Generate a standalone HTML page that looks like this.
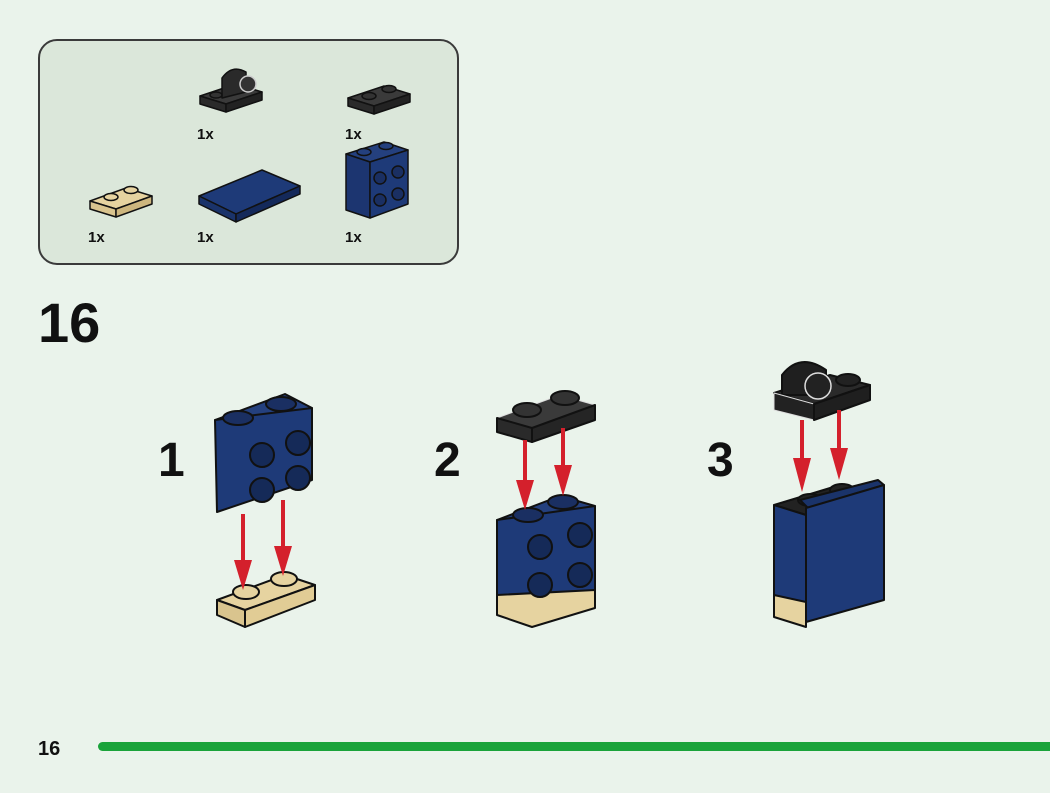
<!DOCTYPE html>
<html><head><meta charset="utf-8"><style>
html,body{margin:0;padding:0;background:#eaf3eb;}
svg{display:block;}
text{font-family:"Liberation Sans",sans-serif;font-weight:bold;fill:#111;}
</style></head><body>
<svg width="1050" height="793" viewBox="0 0 1050 793">
<defs>
<marker id="ar" markerWidth="6" markerHeight="8" refX="3" refY="8" orient="auto" markerUnits="userSpaceOnUse"></marker>
</defs>
<rect width="1050" height="793" fill="#eaf3eb"/>
<rect x="39" y="40" width="419" height="224" rx="18" fill="#dbe7da" stroke="#3a3a3a" stroke-width="2"/>
<!-- parts -->
<g stroke="#111" stroke-width="1.5" stroke-linejoin="round">
 <!-- curved plate -->
 <polygon points="200,96 236,84 262,92 226,104" fill="#3a3a3a"/>
 <polygon points="200,96 226,104 226,112 200,104" fill="#2a2a2a"/>
 <polygon points="226,104 262,92 262,100 226,112" fill="#222"/>
 <path d="M222,98 L222,78 Q232,64 246,72 L246,92 Z" fill="#2a2a2a"/>
 <circle cx="248" cy="84" r="8" fill="#333" stroke="#ccc"/>
 <ellipse cx="216" cy="95" rx="6" ry="3" fill="#333"/>
 <!-- plate 1x2 dark -->
 <polygon points="348,98 384,86 410,94 374,106" fill="#3a3a3a"/>
 <polygon points="348,98 374,106 374,114 348,106" fill="#2a2a2a"/>
 <polygon points="374,106 410,94 410,102 374,114" fill="#222"/>
 <ellipse cx="369" cy="96" rx="7" ry="3.5" fill="#333"/><ellipse cx="389" cy="89" rx="7" ry="3.5" fill="#333"/>
 <!-- tan plate -->
 <polygon points="90,201 126,188 152,196 116,209" fill="#e6d3a0"/>
 <polygon points="90,201 116,209 116,217 90,209" fill="#d9c48e"/>
 <polygon points="116,209 152,196 152,204 116,217" fill="#cdb67e"/>
 <ellipse cx="111" cy="197" rx="7" ry="3.5" fill="#e6d3a0"/><ellipse cx="131" cy="190" rx="7" ry="3.5" fill="#e6d3a0"/>
 <!-- tile blue -->
 <polygon points="199,196 262,170 300,186 236,214" fill="#1e3a78"/>
 <polygon points="199,196 236,214 236,222 199,204" fill="#1a336a"/>
 <polygon points="236,214 300,186 300,194 236,222" fill="#14295a"/>
 <!-- blue brick -->
 <polygon points="346,154 384,142 408,150 370,162" fill="#24407e"/>
 <polygon points="346,154 370,162 370,218 346,210" fill="#1c3570"/>
 <polygon points="370,162 408,150 408,204 370,218" fill="#1e3a78"/>
 <ellipse cx="364" cy="152" rx="7" ry="3.5" fill="#24407e"/><ellipse cx="386" cy="146" rx="7" ry="3.5" fill="#24407e"/>
 <circle cx="380" cy="178" r="6" fill="#1a2f62"/><circle cx="398" cy="172" r="6" fill="#1a2f62"/>
 <circle cx="380" cy="200" r="6" fill="#1a2f62"/><circle cx="398" cy="194" r="6" fill="#1a2f62"/>
</g>
<text x="197" y="139" font-size="15">1x</text>
<text x="345" y="139" font-size="15">1x</text>
<text x="88" y="242" font-size="15">1x</text>
<text x="197" y="242" font-size="15">1x</text>
<text x="345" y="242" font-size="15">1x</text>
<text x="38" y="342" font-size="56">16</text>
<text x="158" y="476" font-size="48">1</text>
<text x="434" y="476" font-size="48">2</text>
<text x="707" y="476" font-size="48">3</text>

<g stroke="#111" stroke-width="2" stroke-linejoin="round">
 <!-- step1 blue brick -->
 <polygon points="215,420 285,394 312,408 243,432" fill="#24407e"/>
 <polygon points="215,420 312,408 312,480 217,512" fill="#1e3a78"/>
 <ellipse cx="238" cy="418" rx="15" ry="7" fill="#1a2f62"/><ellipse cx="281" cy="404" rx="15" ry="7" fill="#1a2f62"/>
 <circle cx="262" cy="455" r="12" fill="#152a58"/><circle cx="298" cy="443" r="12" fill="#152a58"/>
 <circle cx="262" cy="490" r="12" fill="#152a58"/><circle cx="298" cy="478" r="12" fill="#152a58"/>
 <!-- tan plate -->
 <polygon points="217,600 285,575 315,585 245,610" fill="#e6d3a0"/>
 <polygon points="217,600 245,610 245,627 217,615" fill="#d9c48e"/>
 <polygon points="245,610 315,585 315,600 245,627" fill="#e1cc95"/>
 <ellipse cx="246" cy="592" rx="13" ry="7" fill="#e6d3a0"/><ellipse cx="284" cy="579" rx="13" ry="7" fill="#e6d3a0"/>
 <!-- step2 dark plate -->
 <polygon points="497,418 560,395 595,405 532,428" fill="#3a3a3a" stroke="#ddd" stroke-width="1"/>
 <polygon points="497,418 532,428 532,442 497,432" fill="#2a2a2a"/>
 <polygon points="532,428 595,405 595,420 532,442" fill="#252525"/>
 <ellipse cx="527" cy="410" rx="14" ry="7" fill="#333"/><ellipse cx="565" cy="398" rx="14" ry="7" fill="#333"/>
 <!-- step2 brick -->
 <polygon points="497,520 560,496 595,506 530,530" fill="#24407e"/>
 <polygon points="497,520 595,506 595,605 497,600" fill="#1e3a78"/>
 <polygon points="497,595 595,590 595,608 532,627 497,615" fill="#e6d3a0"/>
 <ellipse cx="528" cy="515" rx="15" ry="7" fill="#1a2f62"/><ellipse cx="563" cy="502" rx="15" ry="7" fill="#1a2f62"/>
 <circle cx="540" cy="547" r="12" fill="#152a58"/><circle cx="580" cy="535" r="12" fill="#152a58"/>
 <circle cx="540" cy="585" r="12" fill="#152a58"/><circle cx="580" cy="575" r="12" fill="#152a58"/>
 <!-- step3 curved -->
 <polygon points="774,393 830,375 870,385 814,404" fill="#2a2a2a"/>
 <path d="M782,395 L782,375 Q800,352 826,370 L826,395 Z" fill="#1f1f1f"/>
 <polygon points="774,393 814,404 814,420 774,410" fill="#222" stroke="#ddd" stroke-width="1"/>
 <polygon points="814,404 870,385 870,400 814,420" fill="#1f1f1f"/>
 <circle cx="818" cy="386" r="13" fill="#222" stroke="#ddd" stroke-width="1.5"/>
 <ellipse cx="848" cy="380" rx="12" ry="6" fill="#222"/>
 <!-- step3 body -->
 <polygon points="774,505 840,485 880,492 806,515" fill="#222"/>
 <polygon points="774,505 806,515 806,625 774,615" fill="#1e3a78"/>
 <polygon points="774,595 806,602 806,627 774,617" fill="#e6d3a0"/>
 <ellipse cx="810" cy="500" rx="12" ry="6" fill="#222"/><ellipse cx="842" cy="490" rx="12" ry="6" fill="#222"/>
 <polygon points="800,500 878,480 884,485 808,508" fill="#1a336a"/>
 <polygon points="806,508 884,485 884,600 806,622" fill="#1e3a78"/>
</g>
<!-- arrows -->
<g fill="#d4202c" stroke="none">
 <rect x="241" y="514" width="4" height="50"/><polygon points="234,560 252,560 243,590"/>
 <rect x="281" y="500" width="4" height="50"/><polygon points="274,546 292,546 283,576"/>
 <rect x="523" y="440" width="4" height="45"/><polygon points="516,480 534,480 525,510"/>
 <rect x="561" y="428" width="4" height="45"/><polygon points="554,465 572,465 563,496"/>
 <rect x="800" y="420" width="4" height="45"/><polygon points="793,458 811,458 802,492"/>
 <rect x="837" y="410" width="4" height="40"/><polygon points="830,448 848,448 839,480"/>
</g>
<text x="38" y="755" font-size="20">16</text>
<rect x="98" y="742" width="960" height="9" rx="4.5" fill="#1aa33a"/>
</svg>
</body></html>
